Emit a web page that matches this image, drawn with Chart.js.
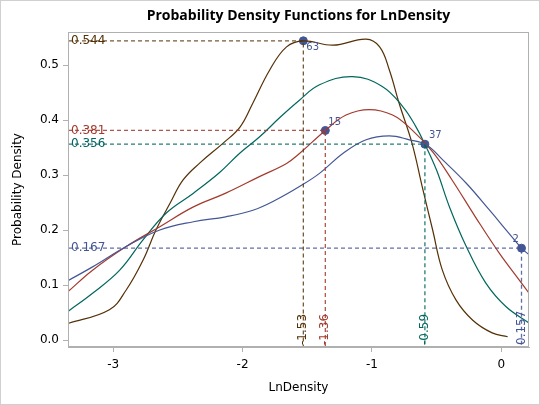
<!DOCTYPE html>
<html>
<head>
<meta charset="utf-8">
<script src="https://cdn.jsdelivr.net/npm/chart.js@4.4.1/dist/chart.umd.min.js"></script>
<style>
  html, body { margin: 0; padding: 0; background: #fff; }
  #wrap { width: 540px; height: 405px; }
</style>
</head>
<body>
<div id="wrap"><canvas id="pdf-chart"></canvas></div>
<script>
// curves
const brownX = [-3.35, -3.03, -2.90, -2.77, -2.67, -2.56, -2.46, -2.33, -2.15, -2.02, -1.92, -1.79, -1.66, -1.53, -1.30, -1.045, -0.94, -0.865, -0.79, -0.69, -0.61, -0.53, -0.455, -0.35, -0.22, -0.07, 0.05];
const brownY = [0.030, 0.055, 0.091, 0.145, 0.200, 0.249, 0.291, 0.322, 0.358, 0.387, 0.431, 0.491, 0.533, 0.544, 0.536, 0.547, 0.533, 0.491, 0.431, 0.358, 0.278, 0.200, 0.127, 0.073, 0.036, 0.013, 0.006];

const tealX = [-3.35, -3.16, -2.95, -2.77, -2.59, -2.38, -2.18, -2.02, -1.87, -1.71, -1.56, -1.405, -1.15, -0.92, -0.76, -0.66, -0.59, -0.50, -0.40, -0.27, -0.12, 0.036, 0.215];
const tealY = [0.052, 0.085, 0.127, 0.182, 0.231, 0.267, 0.304, 0.340, 0.369, 0.405, 0.436, 0.464, 0.479, 0.461, 0.424, 0.388, 0.356, 0.309, 0.242, 0.170, 0.104, 0.061, 0.031];

const redX = [-3.35, -3.16, -2.90, -2.64, -2.38, -2.13, -1.87, -1.66, -1.56, -1.36, -1.20, -1.02, -0.84, -0.69, -0.53, -0.38, -0.20, -0.015, 0.14, 0.215];
const redY = [0.088, 0.127, 0.170, 0.206, 0.242, 0.267, 0.297, 0.321, 0.339, 0.381, 0.409, 0.419, 0.409, 0.382, 0.342, 0.291, 0.224, 0.158, 0.109, 0.085];

const blueX = [-3.35, -3.16, -2.90, -2.64, -2.38, -2.13, -1.92, -1.74, -1.56, -1.405, -1.225, -1.045, -0.865, -0.71, -0.58, -0.45, -0.27, -0.09, 0.06, 0.157, 0.215];
const blueY = [0.108, 0.133, 0.170, 0.200, 0.215, 0.224, 0.236, 0.255, 0.279, 0.303, 0.339, 0.364, 0.371, 0.364, 0.355, 0.327, 0.285, 0.236, 0.194, 0.167, 0.155];

// marked modes
const markX = [-1.53, -1.36, -0.59, 0.157];
const markY = [0.544, 0.381, 0.356, 0.167];
const markIds = ["63", "15", "37", "2"];

const xTicks = [-3, -2, -1, 0];
const yTicks = [0, 0.1, 0.2, 0.3, 0.4, 0.5];
const xMin = -3.35, xMax = 0.215;
const yMin = -0.0127, yMax = 0.56;

const BLUE = "#445694", RED = "#A23A2E", TEAL = "#01665E", BROWN = "#543005";
const markColors = [BROWN, RED, TEAL, BLUE];
const dashColors = ["rgba(84,48,5,0.8)", "rgba(162,58,46,0.85)", "rgba(1,102,94,0.85)", "rgba(68,86,148,0.85)"];
const FONT = "'DejaVu Sans', sans-serif";

function pairs(xs, ys) {
  return xs.map((x, i) => ({ x: x, y: ys[i] }));
}

function curve(xs, ys, color) {
  return {
    data: pairs(xs, ys),
    borderColor: color,
    borderWidth: 1.2,
    pointRadius: 0,
    fill: false,
    tension: 0.4,
  };
}

const refLines = markX.map((x, i) => ({
  data: [{ x: xMin, y: markY[i] }, { x: x, y: markY[i] }, { x: x, y: yMin }],
  borderColor: dashColors[i],
  borderWidth: 1.3,
  borderDash: [4, 3],
  pointRadius: 0,
  tension: 0,
  fill: false,
}));

const markers = {
  data: pairs(markX, markY),
  showLine: false,
  pointRadius: 4,
  pointBackgroundColor: BLUE,
  pointBorderColor: BLUE,
  pointBorderWidth: 1,
};

// labels, title, plot frame
const decor = {
  id: "decor",
  afterDatasetsDraw(chart) {
    const ctx = chart.ctx;
    const area = chart.chartArea;
    const xs = chart.scales.x, ys = chart.scales.y;
    ctx.save();

    ctx.font = "12px " + FONT;
    ctx.textBaseline = "middle";
    markY.forEach((v, i) => {
      ctx.fillStyle = markColors[i];
      ctx.textAlign = "left";
      ctx.fillText(String(v), area.left + 3, ys.getPixelForValue(v));
    });
    markX.forEach((v, i) => {
      ctx.save();
      ctx.translate(xs.getPixelForValue(v), area.bottom - 2);
      ctx.rotate(-Math.PI / 2);
      ctx.fillStyle = markColors[i];
      ctx.textAlign = "left";
      ctx.fillText(String(v), 0, 0);
      ctx.restore();
    });

    ctx.font = "10px " + FONT;
    ctx.fillStyle = BLUE;
    const offs = [[3, 7], [3, -8], [4, -9], [-9, -9]];
    markX.forEach((v, i) => {
      ctx.textAlign = "left";
      ctx.fillText(markIds[i], xs.getPixelForValue(v) + offs[i][0], ys.getPixelForValue(markY[i]) + offs[i][1]);
    });

    ctx.strokeStyle = "#b0b0b0";
    ctx.lineWidth = 1;
    ctx.strokeRect(area.left + 0.5, area.top + 0.5, area.right - area.left - 1, area.bottom - area.top - 1);

    ctx.fillStyle = "#000";
    ctx.font = "bold 14px 'Open Sans', sans-serif";
    ctx.textAlign = "center";
    ctx.fillText("Probability Density Functions for LnDensity", (area.left + area.right) / 2, 16);

    ctx.strokeStyle = "#d0d0d0";
    ctx.strokeRect(0.5, 0.5, chart.width - 1, chart.height - 1);
    ctx.restore();
  },
};

new Chart(document.getElementById("pdf-chart"), {
  type: "line",
  data: {
    datasets: [
      ...refLines,
      curve(blueX, blueY, BLUE),
      curve(redX, redY, RED),
      curve(tealX, tealY, TEAL),
      curve(brownX, brownY, BROWN),
      markers,
    ],
  },
  options: {
    responsive: true,
    maintainAspectRatio: false,
    animation: false,
    layout: { padding: { top: 32, right: 11, left: 0, bottom: 0 } },
    plugins: { legend: { display: false }, tooltip: { enabled: false }, title: { display: false } },
    scales: {
      x: {
        type: "linear",
        min: xMin,
        max: xMax,
        afterBuildTicks: scale => { scale.ticks = xTicks.map(v => ({ value: v })); },
        afterFit: scale => { scale.height = 58; },
        grid: { drawOnChartArea: false, tickLength: 5, color: "#b0b0b0" },
        border: { color: "#b0b0b0" },
        ticks: { color: "#000", font: { family: FONT, size: 12 }, padding: 6, maxRotation: 0 },
        title: { display: true, text: "LnDensity", color: "#000", font: { family: FONT, size: 12 }, padding: { top: 0, bottom: 10 } },
      },
      y: {
        type: "linear",
        min: yMin,
        max: yMax,
        afterBuildTicks: scale => { scale.ticks = yTicks.map(v => ({ value: v })); },
        afterFit: scale => { scale.width = 68; },
        grid: { drawOnChartArea: false, tickLength: 5, color: "#b0b0b0" },
        border: { color: "#b0b0b0" },
        ticks: { color: "#000", font: { family: FONT, size: 12 }, padding: 4, callback: v => v.toFixed(1) },
        title: { display: true, text: "Probability Density", color: "#000", font: { family: FONT, size: 12 }, padding: { top: 11, bottom: 0 } },
      },
    },
  },
  plugins: [decor],
});
</script>
</body>
</html>
